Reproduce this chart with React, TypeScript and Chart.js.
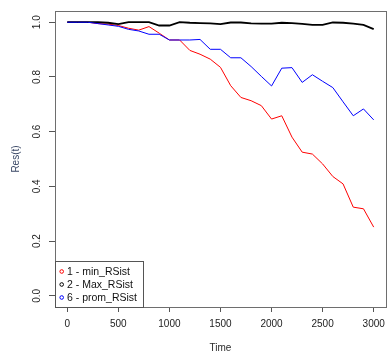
import React, { useEffect, useRef } from 'react';
import { Chart, registerables } from 'chart.js';

Chart.register(...registerables);

const times = [0, 100, 200, 300, 400, 500, 600, 700, 800, 900, 1000, 1100, 1200, 1300, 1400, 1500, 1600, 1700, 1800, 1900, 2000, 2100, 2200, 2300, 2400, 2500, 2600, 2700, 2800, 2900, 3000];
const minRSist = [1.0, 1.0, 1.0, 0.995, 0.993, 0.988, 0.978, 0.971, 0.984, 0.96, 0.935, 0.935, 0.897, 0.883, 0.865, 0.835, 0.768, 0.725, 0.713, 0.695, 0.646, 0.658, 0.58, 0.525, 0.518, 0.482, 0.436, 0.409, 0.324, 0.318, 0.251];
const maxRSist = [1.0, 1.0, 1.0, 1.0, 0.998, 0.993, 1.0, 1.0, 1.0, 0.988, 0.988, 1.0, 0.998, 0.997, 0.996, 0.993, 0.999, 0.999, 0.996, 0.995, 0.995, 0.998, 0.997, 0.994, 0.99, 0.99, 0.999, 0.998, 0.995, 0.99, 0.975];
const promRSist = [1.0, 1.0, 1.0, 0.995, 0.99, 0.985, 0.974, 0.968, 0.956, 0.956, 0.935, 0.935, 0.935, 0.937, 0.901, 0.901, 0.87, 0.87, 0.838, 0.802, 0.767, 0.832, 0.834, 0.78, 0.808, 0.784, 0.761, 0.709, 0.658, 0.683, 0.643];
const seriesLabels = ['1 - min_RSist', '2 - Max_RSist', '6 - prom_RSist'];
const xTickValues = [0, 500, 1000, 1500, 2000, 2500, 3000];
const yTickValues = [0, 0.2, 0.4, 0.6, 0.8, 1.0];
const xTitle = 'Time';
const yTitle = 'Res(t)';

const FONT = "'Liberation Sans', Arial, sans-serif";

const boxPlugin = {
  id: 'plotBox',
  afterDraw(chart: any) {
    const { ctx, chartArea } = chart;
    ctx.save();
    ctx.strokeStyle = '#6e6e6e';
    ctx.lineWidth = 1;
    ctx.strokeRect(
      Math.round(chartArea.left) + 0.5,
      Math.round(chartArea.top) + 0.5,
      Math.round(chartArea.right - chartArea.left),
      Math.round(chartArea.bottom - chartArea.top)
    );
    ctx.restore();
  },
};

const legendPlugin = {
  id: 'boxLegend',
  afterDraw(chart: any) {
    const { ctx, chartArea } = chart;
    const left = Math.round(chartArea.left);
    const bottom = Math.round(chartArea.bottom);
    const w = 88;
    const h = 46;
    ctx.save();
    ctx.fillStyle = '#ffffff';
    ctx.fillRect(left + 0.5, bottom - h + 0.5, w, h);
    ctx.strokeStyle = '#555555';
    ctx.lineWidth = 1;
    ctx.strokeRect(left + 0.5, bottom - h + 0.5, w, h);
    ctx.font = `10.5px ${FONT}`;
    ctx.textBaseline = 'middle';
    ctx.textAlign = 'left';
    chart.data.datasets.forEach((ds: any, i: number) => {
      const y = bottom - h + 10.5 + i * 13;
      ctx.beginPath();
      ctx.strokeStyle = ds.borderColor;
      ctx.lineWidth = 1;
      ctx.arc(left + 6.7, y, 1.8, 0, Math.PI * 2);
      ctx.stroke();
      ctx.fillStyle = '#111111';
      ctx.fillText(ds.label, left + 12, y + 0.5);
    });
    ctx.restore();
  },
};

export default function App() {
  const canvasRef = useRef<HTMLCanvasElement | null>(null);

  useEffect(() => {
    if (!canvasRef.current) return;
    const toPts = (arr: number[]) => times.map((t, i) => ({ x: t, y: arr[i] }));
    const chart = new Chart(canvasRef.current, {
      type: 'line',
      data: {
        datasets: [
          { label: seriesLabels[0], data: toPts(minRSist), borderColor: '#ff0000', borderWidth: 1, pointRadius: 0, order: 2 },
          { label: seriesLabels[1], data: toPts(maxRSist), borderColor: '#000000', borderWidth: 1.8, pointRadius: 0, order: 1 },
          { label: seriesLabels[2], data: toPts(promRSist), borderColor: '#0000ff', borderWidth: 1, pointRadius: 0, order: 0 },
        ],
      },
      options: {
        responsive: false,
        animation: false,
        devicePixelRatio: 1,
        layout: { padding: { left: 0, top: 10, right: 5, bottom: 0 } },
        plugins: { legend: { display: false }, tooltip: { enabled: false } },
        elements: { line: { tension: 0 } },
        scales: {
          x: {
            type: 'linear',
            min: -120,
            max: 3120,
            afterBuildTicks: (scale: any) => { scale.ticks = xTickValues.map((v) => ({ value: v })); },
            afterFit: (scale: any) => { scale.height = 48; },
            border: { display: false },
            grid: { drawOnChartArea: false, drawTicks: true, tickLength: 5, tickColor: '#555555' },
            ticks: { color: '#222222', font: { family: FONT, size: 10 }, padding: 6, maxRotation: 0, autoSkip: false, callback: (v: any) => String(v) },
            title: { display: true, text: xTitle, color: '#2a2a2a', font: { family: FONT, size: 10 }, padding: { top: 0, bottom: 1 } },
          },
          y: {
            type: 'linear',
            min: -0.041,
            max: 1.041,
            afterBuildTicks: (scale: any) => { scale.ticks = yTickValues.map((v) => ({ value: v })); },
            afterFit: (scale: any) => { scale.width = 55; },
            border: { display: false },
            grid: { drawOnChartArea: false, drawTicks: true, tickLength: 6, tickColor: '#555555' },
            ticks: { color: '#222222', font: { family: FONT, size: 10 }, padding: 5, minRotation: 90, maxRotation: 90, crossAlign: 'center', autoSkip: false, callback: (v: any) => Number(v).toFixed(1) },
            title: { display: true, text: yTitle, color: '#3a4866', font: { family: FONT, size: 10 }, padding: { top: 10, bottom: 0 } },
          },
        },
      },
      plugins: [boxPlugin, legendPlugin],
    } as any);
    return () => chart.destroy();
  }, []);

  return (
    <div style={{ position: 'absolute', left: 0, top: 0, width: 391, height: 355, background: '#ffffff' }}>
      <canvas ref={canvasRef} width={391} height={355} style={{ display: 'block' }} />
    </div>
  );
}
